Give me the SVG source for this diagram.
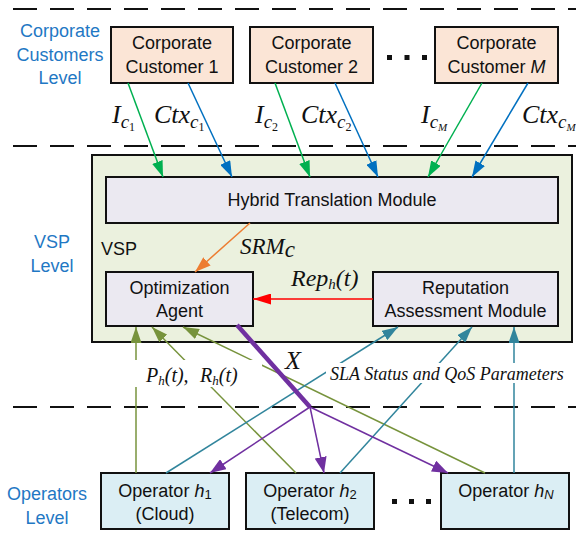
<svg xmlns="http://www.w3.org/2000/svg" width="576" height="542" viewBox="0 0 576 542">
<style>
.lvl{font-family:"Liberation Sans",Arial,sans-serif;font-size:18px;fill:#1f78c4;text-anchor:middle}
.t{font-family:"Liberation Sans",Arial,sans-serif;font-size:18px;fill:#111;text-anchor:middle}
.m{font-family:"Liberation Serif","Times New Roman",serif;font-style:italic;fill:#111}
.dash{stroke:#111;stroke-width:2;stroke-dasharray:24 13;fill:none}
.box{stroke:#111;stroke-width:2}
.cc{fill:#fbe5d6}
.op{fill:#dbeef4}
.mod{fill:#ebe9f1}
.ln{fill:none;stroke-width:1.5}
.dot{fill:#111}
</style>
<defs>
<marker id="aG" viewBox="0 0 16 11" refX="16" refY="5.5" markerWidth="16" markerHeight="11" markerUnits="userSpaceOnUse" orient="auto"><path d="M0,0 L16,5.5 L0,11 z" fill="#00b050"/></marker>
<marker id="aB" viewBox="0 0 16 11" refX="16" refY="5.5" markerWidth="16" markerHeight="11" markerUnits="userSpaceOnUse" orient="auto"><path d="M0,0 L16,5.5 L0,11 z" fill="#0070c0"/></marker>
<marker id="aO" viewBox="0 0 16 11" refX="16" refY="5.5" markerWidth="16" markerHeight="11" markerUnits="userSpaceOnUse" orient="auto"><path d="M0,0 L16,5.5 L0,11 z" fill="#ed7d31"/></marker>
<marker id="aR" viewBox="0 0 18 11" refX="18" refY="5.5" markerWidth="18" markerHeight="11" markerUnits="userSpaceOnUse" orient="auto"><path d="M0,0 L18,5.5 L0,11 z" fill="#ff0000"/></marker>
<marker id="aL" viewBox="0 0 16 11" refX="16" refY="5.5" markerWidth="16" markerHeight="11" markerUnits="userSpaceOnUse" orient="auto"><path d="M0,0 L16,5.5 L0,11 z" fill="#77933c"/></marker>
<marker id="aT" viewBox="0 0 16 11" refX="16" refY="5.5" markerWidth="16" markerHeight="11" markerUnits="userSpaceOnUse" orient="auto"><path d="M0,0 L16,5.5 L0,11 z" fill="#31859c"/></marker>
<marker id="aP" viewBox="0 0 16 12" refX="16" refY="6" markerWidth="16" markerHeight="12" markerUnits="userSpaceOnUse" orient="auto"><path d="M0,0 L16,6 L0,12 z" fill="#7030a0"/></marker>
</defs>
<rect width="576" height="542" fill="#fff"/>

<g id="levels">
<line class="dash" x1="13" y1="9" x2="576" y2="9"/>
<line class="dash" x1="13" y1="146" x2="576" y2="146"/>
<line class="dash" x1="13" y1="407" x2="576" y2="407"/>
<text class="lvl" x="60" y="37">Corporate</text>
<text class="lvl" x="60" y="61">Customers</text>
<text class="lvl" x="60" y="84">Level</text>
<text class="lvl" x="52" y="248">VSP</text>
<text class="lvl" x="52" y="272">Level</text>
<text class="lvl" x="47" y="500">Operators</text>
<text class="lvl" x="47" y="524">Level</text>
</g>

<g id="cc1">
<rect class="box cc" x="111" y="27" width="122" height="56"/>
<text class="t" x="172" y="49">Corporate</text>
<text class="t" x="172" y="73">Customer 1</text>
</g>
<g id="cc2">
<rect class="box cc" x="250" y="27" width="123" height="56"/>
<text class="t" x="311.5" y="49">Corporate</text>
<text class="t" x="311.5" y="73">Customer 2</text>
</g>
<g id="ccdots">
<rect class="dot" x="387" y="55" width="5" height="5"/>
<rect class="dot" x="404.5" y="55" width="5" height="5"/>
<rect class="dot" x="422" y="55" width="5" height="5"/>
</g>
<g id="ccM">
<rect class="box cc" x="435" y="27" width="123" height="56"/>
<text class="t" x="496.5" y="49">Corporate</text>
<text class="t" x="496.5" y="73">Customer <tspan font-style="italic">M</tspan></text>
</g>

<g id="vsp">
<rect class="box" x="92" y="155" width="480" height="187" fill="#ebf1de"/>
<text class="t" x="101" y="255" style="text-anchor:start">VSP</text>
</g>
<g id="htm">
<rect class="box mod" x="106" y="177" width="452" height="46"/>
<text class="t" x="332" y="206">Hybrid Translation Module</text>
</g>
<g id="oa">
<rect class="box mod" x="106" y="272" width="147" height="54"/>
<text class="t" x="179.5" y="294">Optimization</text>
<text class="t" x="179.5" y="317">Agent</text>
</g>
<g id="ram">
<rect class="box mod" x="373" y="272" width="185" height="54"/>
<text class="t" x="465.5" y="294">Reputation</text>
<text class="t" x="465.5" y="317">Assessment Module</text>
</g>

<g id="op1">
<rect class="box op" x="101" y="473" width="128" height="56"/>
<text class="t" x="165" y="497">Operator <tspan font-style="italic">h</tspan><tspan font-size="13" dy="2">1</tspan></text>
<text class="t" x="165" y="520">(Cloud)</text>
</g>
<g id="op2">
<rect class="box op" x="246" y="473" width="128" height="56"/>
<text class="t" x="310" y="497">Operator <tspan font-style="italic">h</tspan><tspan font-size="13" dy="2">2</tspan></text>
<text class="t" x="310" y="520">(Telecom)</text>
</g>
<g id="opdots">
<rect class="dot" x="392" y="499" width="5" height="5"/>
<rect class="dot" x="409" y="499" width="5" height="5"/>
<rect class="dot" x="426" y="499" width="5" height="5"/>
</g>
<g id="opN">
<rect class="box op" x="441" y="473" width="128" height="56"/>
<text class="t" x="506" y="497">Operator <tspan font-style="italic">h</tspan><tspan font-size="13" dy="2" font-style="italic">N</tspan></text>
</g>

<g id="connectors">
<line class="ln" stroke="#00b050" x1="128" y1="83" x2="163" y2="177" marker-end="url(#aG)"/>
<line class="ln" stroke="#0070c0" x1="188" y1="83" x2="232" y2="177" marker-end="url(#aB)"/>
<line class="ln" stroke="#00b050" x1="275" y1="83" x2="310" y2="177" marker-end="url(#aG)"/>
<line class="ln" stroke="#0070c0" x1="335" y1="83" x2="378" y2="177" marker-end="url(#aB)"/>
<line class="ln" stroke="#00b050" x1="482" y1="83" x2="428" y2="177" marker-end="url(#aG)"/>
<line class="ln" stroke="#0070c0" x1="528" y1="83" x2="472" y2="177" marker-end="url(#aB)"/>
<line class="ln" stroke="#ed7d31" x1="250" y1="223" x2="195" y2="272" marker-end="url(#aO)"/>
<line class="ln" stroke="#ff0000" x1="373" y1="299" x2="253" y2="299" marker-end="url(#aR)"/>
<line class="ln" stroke="#77933c" stroke-width="1.3" x1="136" y1="473" x2="136" y2="327" marker-end="url(#aL)"/>
<line class="ln" stroke="#77933c" stroke-width="1.3" x1="296" y1="473" x2="152" y2="327" marker-end="url(#aL)"/>
<line class="ln" stroke="#77933c" stroke-width="1.3" x1="485" y1="473" x2="183" y2="327" marker-end="url(#aL)"/>
<line class="ln" stroke="#31859c" stroke-width="1.3" x1="166" y1="473" x2="398" y2="327" marker-end="url(#aT)"/>
<line class="ln" stroke="#31859c" stroke-width="1.3" x1="340" y1="473" x2="472" y2="327" marker-end="url(#aT)"/>
<line class="ln" stroke="#31859c" stroke-width="1.3" x1="514" y1="473" x2="514" y2="327" marker-end="url(#aT)"/>
<rect x="128" y="360" width="134" height="27" fill="#fff"/>
<rect x="326" y="363" width="244" height="20" fill="#fff"/>
<line stroke="#7030a0" stroke-width="4.5" x1="237" y1="325" x2="310" y2="407"/>
<line class="ln" stroke="#7030a0" x1="310" y1="407" x2="210" y2="473" marker-end="url(#aP)"/>
<line class="ln" stroke="#7030a0" x1="310" y1="407" x2="324" y2="473" marker-end="url(#aP)"/>
<line class="ln" stroke="#7030a0" x1="310" y1="407" x2="448" y2="473" marker-end="url(#aP)"/>
</g>

<g id="labels">
<text class="m" x="112" y="123" font-size="26">I<tspan font-size="19" dy="5">c</tspan><tspan font-size="12" dy="3" font-style="normal">1</tspan></text>
<text class="m" x="154" y="123" font-size="26">Ctx<tspan font-size="19" dy="5">c</tspan><tspan font-size="12" dy="3" font-style="normal">1</tspan></text>
<text class="m" x="255" y="123" font-size="26">I<tspan font-size="19" dy="5">c</tspan><tspan font-size="12" dy="3" font-style="normal">2</tspan></text>
<text class="m" x="301" y="123" font-size="26">Ctx<tspan font-size="19" dy="5">c</tspan><tspan font-size="12" dy="3" font-style="normal">2</tspan></text>
<text class="m" x="421" y="123" font-size="26">I<tspan font-size="19" dy="5">c</tspan><tspan font-size="11" dy="3">M</tspan></text>
<text class="m" x="522" y="123" font-size="26">Ctx<tspan font-size="19" dy="5">c</tspan><tspan font-size="11" dy="3">M</tspan></text>
<text class="m" x="240" y="254" font-size="23">SRM<tspan dy="3">c</tspan></text>
<text class="m" x="291" y="286" font-size="24">Rep<tspan font-size="15" dy="3">h</tspan><tspan dy="-3">(t)</tspan></text>
<text class="m" x="285" y="369" font-size="26">X</text>
<text class="m" x="146" y="382" font-size="20">P<tspan font-size="13" dy="3">h</tspan><tspan dy="-3">(t),</tspan><tspan x="200">R</tspan><tspan font-size="13" dy="3">h</tspan><tspan dy="-3">(t)</tspan></text>
<text class="m" x="330" y="380" font-size="18">SLA Status and QoS Parameters</text>
</g>
</svg>
